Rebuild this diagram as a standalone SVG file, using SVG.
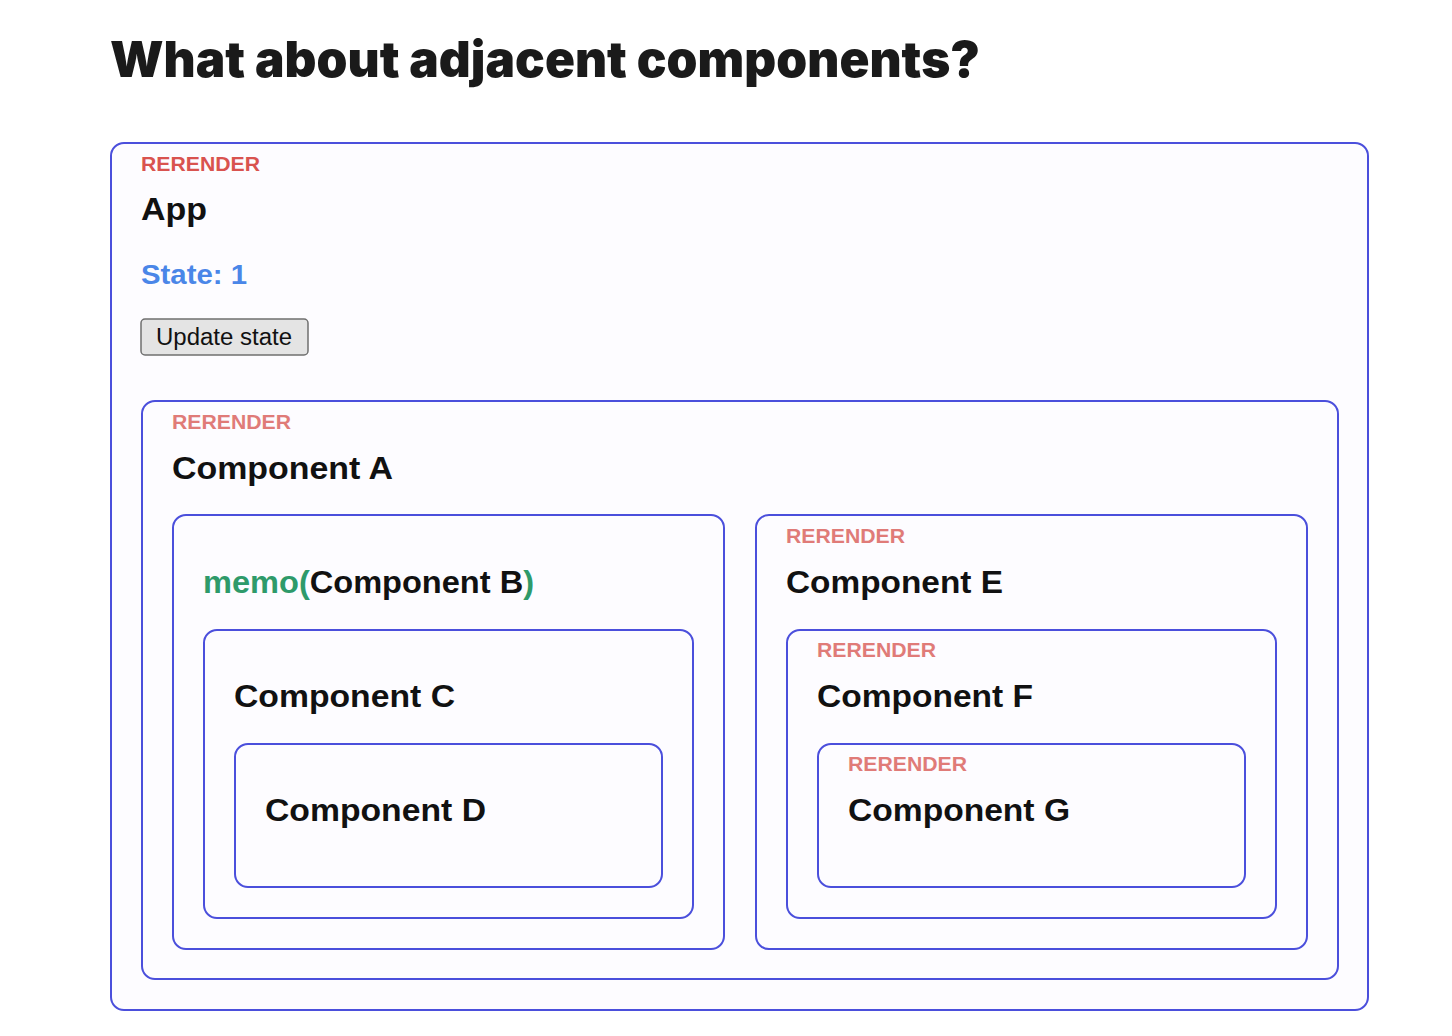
<svg xmlns="http://www.w3.org/2000/svg" width="1452" height="1036" viewBox="0 0 1452 1036">
<style>
.box{fill:#fdfcff;stroke:#4b4fdc;stroke-width:2}
.rr{font-family:"Liberation Sans",Arial,sans-serif;font-weight:700;font-size:20px;fill:#e07b78}
.rr0{fill:#d9534f}
.nm{font-family:"Liberation Sans",Arial,sans-serif;font-weight:700;font-size:32px;fill:#111}
.memo{fill:#2e9a6a}
</style>
<rect width="1452" height="1036" fill="#ffffff"/>
<text x="110" y="77" font-family="Inter, 'DejaVu Sans', sans-serif" font-weight="900" font-size="50" fill="#1a1a1a" textLength="870" lengthAdjust="spacingAndGlyphs">What about adjacent components?</text>
<g id="app">
<rect class="box" x="111" y="143" width="1257" height="867" rx="13"/>
<text class="rr rr0" x="141" y="171" textLength="119" lengthAdjust="spacingAndGlyphs">RERENDER</text>
<text class="nm" x="141" y="220" textLength="66" lengthAdjust="spacingAndGlyphs">App</text>
<text x="141" y="284" font-family="Liberation Sans,Arial,sans-serif" font-weight="700" font-size="28" fill="#4a86e8" textLength="106" lengthAdjust="spacingAndGlyphs">State: 1</text>
<rect x="141" y="319" width="167" height="36" rx="4" fill="#e4e4e4" stroke="#6f6f6f" stroke-width="1.5"/>
<text x="156" y="345" font-family="Liberation Sans,Arial,sans-serif" font-size="23" fill="#111" textLength="136" lengthAdjust="spacingAndGlyphs">Update state</text>
</g>
<g id="componentA">
<rect class="box" x="142" y="401" width="1196" height="578" rx="13"/>
<text class="rr" x="172" y="429" textLength="119" lengthAdjust="spacingAndGlyphs">RERENDER</text>
<text class="nm" x="172" y="479" textLength="221" lengthAdjust="spacingAndGlyphs">Component A</text>
</g>
<g id="componentB">
<rect class="box" x="173" y="515" width="551" height="434" rx="13"/>
<text class="nm" x="203" y="593" textLength="331" lengthAdjust="spacingAndGlyphs"><tspan class="memo">memo(</tspan>Component B<tspan class="memo">)</tspan></text>
</g>
<g id="componentC">
<rect class="box" x="204" y="630" width="489" height="288" rx="13"/>
<text class="nm" x="234" y="707" textLength="221" lengthAdjust="spacingAndGlyphs">Component C</text>
</g>
<g id="componentD">
<rect class="box" x="235" y="744" width="427" height="143" rx="13"/>
<text class="nm" x="265" y="821" textLength="221" lengthAdjust="spacingAndGlyphs">Component D</text>
</g>
<g id="componentE">
<rect class="box" x="756" y="515" width="551" height="434" rx="13"/>
<text class="rr" x="786" y="543" textLength="119" lengthAdjust="spacingAndGlyphs">RERENDER</text>
<text class="nm" x="786" y="593" textLength="217" lengthAdjust="spacingAndGlyphs">Component E</text>
</g>
<g id="componentF">
<rect class="box" x="787" y="630" width="489" height="288" rx="13"/>
<text class="rr" x="817" y="657" textLength="119" lengthAdjust="spacingAndGlyphs">RERENDER</text>
<text class="nm" x="817" y="707" textLength="216" lengthAdjust="spacingAndGlyphs">Component F</text>
</g>
<g id="componentG">
<rect class="box" x="818" y="744" width="427" height="143" rx="13"/>
<text class="rr" x="848" y="771" textLength="119" lengthAdjust="spacingAndGlyphs">RERENDER</text>
<text class="nm" x="848" y="821" textLength="222" lengthAdjust="spacingAndGlyphs">Component G</text>
</g>
<g id="connectors"></g>
</svg>
